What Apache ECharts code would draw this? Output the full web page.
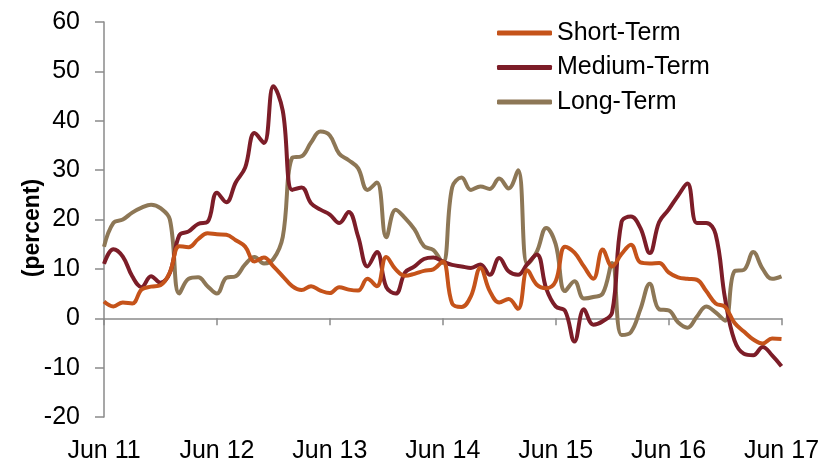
<!DOCTYPE html>
<html>
<head>
<meta charset="utf-8">
<script src="https://cdn.jsdelivr.net/npm/echarts@6/dist/echarts.min.js"></script>
<style>
html,body{margin:0;padding:0;background:#fff;}
#chart{width:829px;height:464px;}
</style>
</head>
<body>
<div id="chart"></div>
<script>
const monthNames = ['Jun','Jul','Aug','Sep','Oct','Nov','Dec','Jan','Feb','Mar','Apr','May'];
const categories = [];
for (let i = 0; i <= 72; i++) {
  const yr = 11 + Math.floor((i + 5) / 12);
  categories.push(monthNames[i % 12] + ' ' + yr);
}
const yTicks = [-20, -10, 0, 10, 20, 30, 40, 50, 60];

const shortTerm = [
  3.4, 2.4, 3.2, 3.0, 5.8, 6.4, 6.7, 9.3, 14.6, 14.4,
  16.0, 17.2, 17.0, 16.9, 15.8, 14.5, 11.5, 12.3, 10.5, 8.5,
  6.5, 5.7, 6.5, 5.6, 5.1, 6.3, 5.8, 5.6, 8.0, 6.5,
  12.4, 9.9, 8.6, 9.0, 9.6, 9.9, 11.5, 3.0, 2.3, 4.5,
  10.2, 5.5, 3.2, 3.9, 1.9, 9.7, 6.8, 6.1, 7.5, 14.5,
  13.3, 10.5, 8.0, 13.9, 10.5, 13.0, 14.9, 11.3, 11.1, 11.2,
  9.3, 8.3, 8.0, 7.8, 5.5, 3.0, 2.3, -0.9, -2.7, -4.3,
  -5.1, -4.1, -4.2
];
const mediumTerm = [
  11.0, 14.0, 12.5, 8.5, 6.3, 8.5, 7.2, 9.2, 16.8, 17.6,
  19.1, 19.5, 25.4, 23.5, 27.5, 30.5, 37.5, 35.5, 47.0, 42.0,
  26.0, 26.5, 23.3, 22.0, 21.0, 19.3, 21.5, 16.6, 10.5, 13.4,
  6.3, 5.0, 9.3, 10.5, 12.0, 12.3, 11.5, 10.8, 10.5, 10.2,
  10.9, 8.8, 12.2, 9.5, 8.8, 11.0, 12.9, 6.0, 2.4, 1.5,
  -4.7, 1.8, -1.3, -0.6, 1.2, 19.5, 20.6, 18.3, 13.2, 19.5,
  22.0, 24.8, 27.3, 19.3, 19.3, 17.0, 4.0, -4.5, -7.2, -7.5,
  -5.8, -7.5, -9.7
];
const longTerm = [
  14.5, 19.3, 20.0, 21.4, 22.4, 23.0, 22.3, 20.0, 5.0, 8.0,
  8.3, 6.5, 5.0, 8.2, 8.5, 10.9, 12.4, 11.1, 12.0, 16.5,
  32.5, 32.8, 35.6, 37.8, 37.0, 33.3, 32.0, 30.4, 26.0, 27.5,
  16.4, 22.0, 20.3, 18.0, 14.6, 13.8, 11.2, 26.5, 28.5, 26.0,
  26.7, 26.2, 28.3, 26.3, 30.0, 10.9, 13.5, 18.3, 15.0, 5.5,
  7.5, 4.0, 4.3, 5.0, 11.2, -3.4, -2.8, 1.8, 7.0, 1.8,
  1.6, -0.8, -1.9, 0.3, 2.4, 1.2, -0.5, 9.5, 9.8, 13.4,
  10.0, 8.0, 8.5
];
const seriesNames = ['Short-Term', 'Medium-Term', 'Long-Term'];
const seriesColors = ['#C5531A', '#7C1D28', '#8D7756'];
const seriesData = [shortTerm, mediumTerm, longTerm];

const FONT = 'Liberation Sans, Arial, sans-serif';
const axisGray = '#8a8a8a';
const yearTick = (i) => i % 12 === 0;

const chart = echarts.init(document.getElementById('chart'), null, {renderer: 'canvas'});
chart.setOption({
  animation: false,
  backgroundColor: '#ffffff',
  textStyle: {fontFamily: FONT},
  grid: {left: 104, right: 47.5, top: 22, bottom: 47, containLabel: false},
  legend: {
    orient: 'vertical',
    left: 497,
    top: 20,
    padding: 0,
    itemWidth: 55,
    itemHeight: 5,
    itemGap: 8.5,
    icon: 'roundRect',
    data: seriesNames,
    textStyle: {fontFamily: FONT, fontSize: 25, color: '#000', lineHeight: 26, padding: [0, 0, 0, 0]}
  },
  graphic: [{
    type: 'text',
    x: 33,
    y: 228,
    rotation: Math.PI / 2,
    style: {
      text: '(percent)',
      font: 'bold 23px ' + FONT,
      fill: '#000',
      align: 'center',
      verticalAlign: 'middle'
    }
  }],
  xAxis: [{
    type: 'category',
    data: categories,
    boundaryGap: false,
    position: 'bottom',
    axisLine: {show: false, onZero: false},
    axisTick: {show: false},
    axisLabel: {interval: yearTick, fontSize: 25, color: '#000', fontFamily: FONT, margin: 22},
    splitLine: {show: false}
  }, {
    type: 'category',
    data: categories,
    boundaryGap: false,
    position: 'bottom',
    axisLine: {show: true, onZero: true, lineStyle: {color: axisGray, width: 1.5}},
    axisTick: {show: true, interval: yearTick, length: 7, inside: false, lineStyle: {color: axisGray, width: 1.5}},
    axisLabel: {show: false},
    splitLine: {show: false}
  }],
  yAxis: {
    type: 'value',
    min: yTicks[0],
    max: yTicks[yTicks.length - 1],
    interval: 10,
    axisLine: {show: true, onZero: false, lineStyle: {color: axisGray, width: 1.5}},
    axisTick: {show: true, length: 9, lineStyle: {color: axisGray, width: 1.5}},
    axisLabel: {fontSize: 25, color: '#000', fontFamily: FONT, margin: 24},
    splitLine: {show: false}
  },
  series: seriesNames.map((name, k) => ({
    name: name,
    type: 'line',
    xAxisIndex: 0,
    data: seriesData[k],
    smooth: 0.4,
    showSymbol: false,
    symbol: 'none',
    color: seriesColors[k],
    lineStyle: {width: 4, color: seriesColors[k]},
    z: 3 - k
  }))
});
</script>
</body>
</html>
